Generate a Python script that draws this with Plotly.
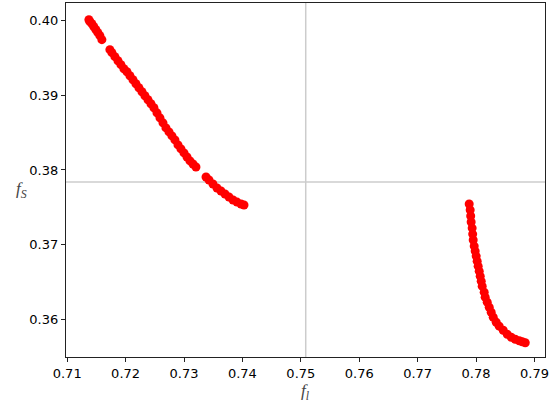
import plotly.graph_objects as go

# Left cluster (f_l, f_S)
left_fl = [0.71372, 0.71389, 0.71423, 0.71457, 0.71492, 0.71526, 0.71560, 0.71594,
           0.71731, 0.71766, 0.71817, 0.71869, 0.71920, 0.71971, 0.72023, 0.72074,
           0.72126, 0.72177, 0.72228, 0.72280, 0.72331, 0.72383, 0.72434, 0.72485,
           0.72537, 0.72588, 0.72640, 0.72691, 0.72743, 0.72794, 0.72845, 0.72897,
           0.72948, 0.73000, 0.73051, 0.73102, 0.73154, 0.73205,
           0.73377, 0.73428, 0.73496, 0.73565, 0.73633, 0.73702, 0.73770, 0.73839,
           0.73907, 0.73976, 0.74027]
left_fs = [0.40009, 0.39983, 0.39956, 0.39916, 0.39876, 0.39836, 0.39796, 0.39743,
           0.39609, 0.39569, 0.39515, 0.39461, 0.39408, 0.39354, 0.39314, 0.39260,
           0.39207, 0.39153, 0.39100, 0.39046, 0.38993, 0.38939, 0.38885, 0.38832,
           0.38764, 0.38697, 0.38630, 0.38563, 0.38509, 0.38456, 0.38402, 0.38335,
           0.38282, 0.38228, 0.38174, 0.38121, 0.38080, 0.38040,
           0.37906, 0.37866, 0.37813, 0.37759, 0.37719, 0.37679, 0.37639, 0.37598,
           0.37571, 0.37545, 0.37531]

# Right cluster (f_l, f_S)
right_fl = [0.77882, 0.77899, 0.77908, 0.77916, 0.77933, 0.77942, 0.77951, 0.77968,
            0.77985, 0.78002, 0.78019, 0.78036, 0.78054, 0.78071, 0.78088, 0.78105,
            0.78139, 0.78156, 0.78191, 0.78225, 0.78259, 0.78294, 0.78345, 0.78396,
            0.78465, 0.78533, 0.78602, 0.78670, 0.78739, 0.78790, 0.78842]
right_fs = [0.37545, 0.37465, 0.37384, 0.37304, 0.37223, 0.37143, 0.37063, 0.36982,
            0.36915, 0.36848, 0.36781, 0.36714, 0.36647, 0.36580, 0.36513, 0.36446,
            0.36366, 0.36299, 0.36232, 0.36165, 0.36098, 0.36031, 0.35964, 0.35911,
            0.35857, 0.35803, 0.35763, 0.35736, 0.35716, 0.35703, 0.35690]

# Reference crosshair position
ref_fl = 0.75084
ref_fs = 0.37839

x_ticks = [0.71, 0.72, 0.73, 0.74, 0.75, 0.76, 0.77, 0.78, 0.79]
y_ticks = [0.36, 0.37, 0.38, 0.39, 0.40]

fig = go.Figure()
fig.add_trace(go.Scatter(
    x=left_fl + right_fl, y=left_fs + right_fs, mode="markers",
    marker=dict(color="rgb(255,0,0)", size=9, line=dict(width=0)),
    showlegend=False, hoverinfo="x+y"))

fig.add_shape(type="line", xref="x", yref="paper", x0=ref_fl, x1=ref_fl, y0=0, y1=1,
              line=dict(color="#cccccc", width=1.5), layer="below")
fig.add_shape(type="line", xref="paper", yref="y", x0=0, x1=1, y0=ref_fs, y1=ref_fs,
              line=dict(color="#cccccc", width=1.5), layer="below")

title_font = dict(family="Liberation Serif", size=17, color="#444")
fig.add_annotation(xref="paper", yref="paper", x=-0.092, y=0.472,
                   xanchor="center", yanchor="middle",
                   text="<i>f</i><sub><i>S</i></sub>", showarrow=False, font=title_font)
fig.add_annotation(xref="paper", yref="paper", x=0.499, y=-0.1,
                   xanchor="center", yanchor="middle",
                   text="<i>f</i><sub><i>l</i></sub>", showarrow=False, font=title_font)

fig.update_layout(
    width=550, height=405,
    margin=dict(l=66, r=5, t=3, b=48, autoexpand=False),
    paper_bgcolor="white", plot_bgcolor="white",
    font=dict(family="DejaVu Sans", size=13, color="black"),
    xaxis=dict(range=[0.7098, 0.7918], tickvals=x_ticks,
               ticktext=[f"{v:.2f}" for v in x_ticks], automargin=False,
               showgrid=False, zeroline=False, showline=True, mirror=True,
               linecolor="#222", linewidth=1.2, ticks="outside", ticklen=4,
               tickcolor="#222"),
    yaxis=dict(range=[0.35499, 0.40233], tickvals=y_ticks,
               ticktext=[f"{v:.2f}" for v in y_ticks], automargin=False,
               showgrid=False, zeroline=False, showline=True, mirror=True,
               linecolor="#222", linewidth=1.2, ticks="outside", ticklen=4,
               tickcolor="#222"),
)

fig.write_html("out.html", config={"displayModeBar": False},
               post_script="document.body.style.margin='0';document.body.style.padding='0';")
